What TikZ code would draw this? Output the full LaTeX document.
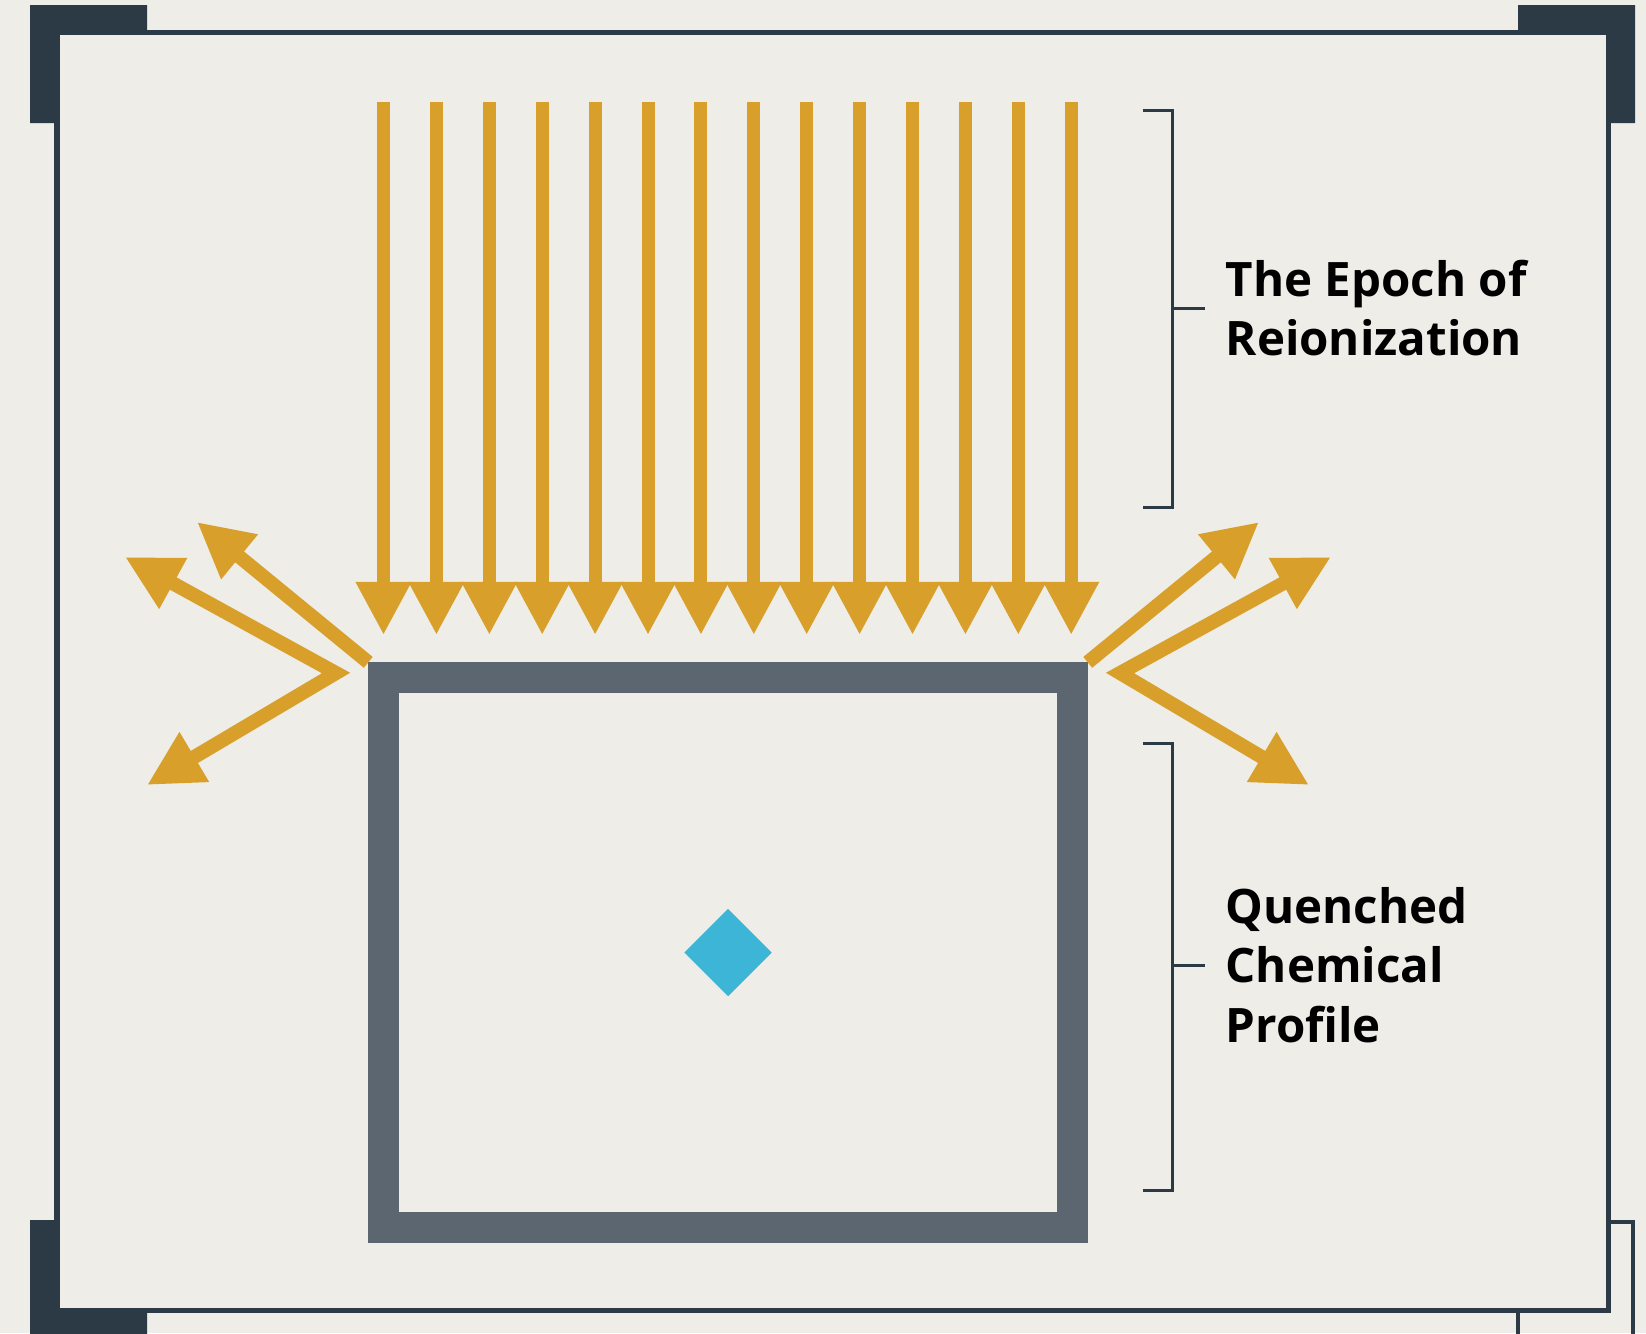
\documentclass[tikz,border=0pt]{standalone}
\usepackage{fontspec}
\setmainfont{Open Sans}
\usetikzlibrary{arrows.meta,calc,positioning,shapes.geometric}
\definecolor{paper}{RGB}{238,237,232}
\definecolor{ink}{RGB}{44,58,70}
\definecolor{gold}{RGB}{216,159,42}
\definecolor{slate}{RGB}{91,102,112}
\definecolor{cyanite}{RGB}{61,181,214}
\tikzstyle{frameline} = [draw=ink, line width=0.05cm, fill=paper]
\tikzstyle{cornerblock} = [fill=ink]
\tikzstyle{ray} = [draw=gold, line width=0.13cm, -{Triangle[length=0.53cm,width=0.52cm]}]
\tikzstyle{bounce} = [draw=gold, line width=0.14cm, line join=miter, >={Triangle[length=0.55cm,width=0.54cm]}]
\tikzstyle{slab} = [rectangle, draw=slate, line width=0.31cm, minimum width=6.88cm, minimum height=5.49cm]
\tikzstyle{gem} = [diamond, fill=cyanite, inner sep=0pt, minimum width=0.88cm, minimum height=0.88cm]
\tikzstyle{brace} = [draw=ink, line width=0.03cm]
\tikzstyle{sidetext} = [align=left, inner xsep=0.2cm, inner ysep=0pt, anchor=west, font=\bfseries\fontsize{13.5pt}{17pt}\selectfont]

\begin{document}
\begin{tikzpicture}[x=0.01cm, y=-0.01cm]
\fill[paper] (0,0) rectangle (1646,1333);
\useasboundingbox (0,0) rectangle (1646,1333);

% frame and corner marks
\draw[frameline] (57,32) rectangle (1608,1310);
\fill[cornerblock] (30,5) -- (147,5) -- (147,33) -- (57,33) -- (57,123) -- (30,123) -- cycle;
\fill[cornerblock] (1518,5) -- (1635,5) -- (1635,123) -- (1608,123) -- (1608,33) -- (1518,33) -- cycle;
\fill[cornerblock] (30,1220) -- (57,1220) -- (57,1310) -- (147,1310) -- (147,1345) -- (30,1345) -- cycle;
\draw[brace, line width=0.04cm] (1608,1222) -- (1633,1222) -- (1633,1345);
\draw[brace, line width=0.04cm] (1518,1312) -- (1518,1345);

% the box and its core
\node (halo) [slab] at (728,952.5) {};
\node (core) [gem] at (halo.center) {};

% incoming rays
\foreach \i in {0,...,13} {
  \coordinate (s\i) at (383.5+52.9*\i,102);
  \coordinate (e\i) at (383.5+52.9*\i,635);
  \draw[ray] (s\i) -- (e\i);
}

% reflected rays
\coordinate (lTip) at (197,522);
\coordinate (lUp) at (125,557);
\coordinate (lV) at (336,673);
\coordinate (lDown) at (147,785);
\coordinate (rTip) at (1259,522);
\coordinate (rUp) at (1331,557);
\coordinate (rV) at (1120,673);
\coordinate (rDown) at (1309,785);
\draw[bounce, ->] (halo.north west) -- (lTip);
\draw[bounce, <->] (lUp) -- (lV) -- (lDown);
\draw[bounce, ->] (halo.north east) -- (rTip);
\draw[bounce, <->] (rUp) -- (rV) -- (rDown);

% brackets and labels
\node (epoch) [sidetext] at (1205,308) {The Epoch of\\Reionization};
\node (quench) [sidetext] at (1205,965) {Quenched\\Chemical\\Profile};
\coordinate (eTop) at (1143,110);
\coordinate (eMid) at (1172,308);
\coordinate (eBot) at (1143,507);
\coordinate (qTop) at (1143,743);
\coordinate (qMid) at (1172,965);
\coordinate (qBot) at (1143,1190);
\draw[brace] (eTop) -- (eTop -| eMid) -- (eBot -| eMid) -- (eBot);
\draw[brace] (eMid) -- (epoch.west);
\draw[brace] (qTop) -- (qTop -| qMid) -- (qBot -| qMid) -- (qBot);
\draw[brace] (qMid) -- (quench.west);
\end{tikzpicture}
\end{document}
